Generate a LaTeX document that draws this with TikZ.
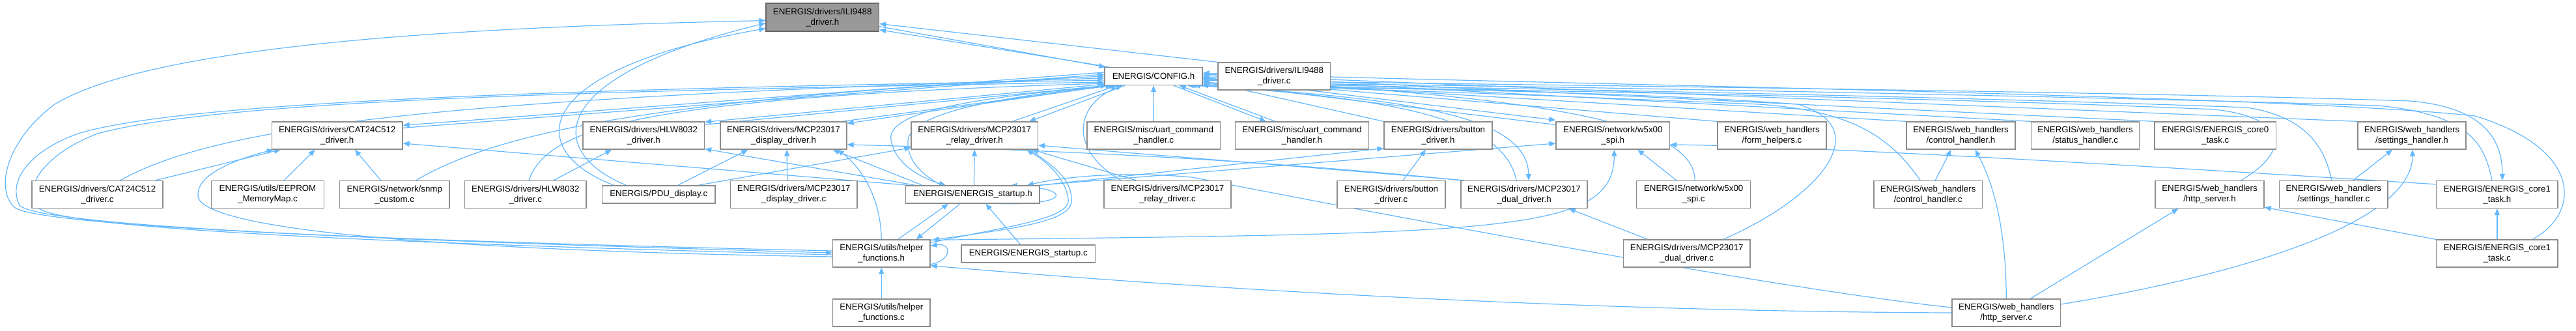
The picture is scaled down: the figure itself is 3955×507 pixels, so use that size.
\documentclass[tikz,border=0pt]{standalone}
\usepackage{fontspec}
\setmainfont{Liberation Sans}
\usetikzlibrary{arrows.meta,calc}
\definecolor{boxgray}{HTML}{8C8C8C}
\definecolor{hlfill}{HTML}{999999}
\definecolor{hlborder}{HTML}{666666}
\definecolor{edgeblue}{HTML}{63B8FF}
\pgfdeclarelayer{bg}
\pgfsetlayers{bg,main}
\newcommand{\fsz}{\fontsize{13.3}{16}\selectfont}
\tikzset{
  box/.style={draw=boxgray, line width=1.3pt, fill=white, inner sep=0pt, align=center, font=\fsz, minimum height=42pt},
  one/.style={minimum height=27pt},
  hl/.style={fill=hlfill, draw=hlborder},
  e/.style={draw=edgeblue, line width=1.2pt, -{Triangle[length=10pt,width=8pt]}},
}
\begin{document}
\begin{tikzpicture}[x=1pt,y=-1pt]
\useasboundingbox (0,0) rectangle (3955,507);
% ---------- nodes
\node[box,hl,minimum width=173.5pt,minimum height=43pt] (ilih) at (1262.75,26.5) {ENERGIS/drivers/ILI9488\\\_driver.h};
\node[box,one,minimum width=150pt] (cfg) at (1771,117) {ENERGIS/CONFIG.h};
\node[box,minimum width=172.5pt] (ilic) at (1956.25,117) {ENERGIS/drivers/ILI9488\\\_driver.c};
% row 2
\node[box,minimum width=200.5pt] (cath) at (517.75,208) {ENERGIS/drivers/CAT24C512\\\_driver.h};
\node[box,minimum width=186.5pt] (hlwh) at (988.25,208) {ENERGIS/drivers/HLW8032\\\_driver.h};
\node[box,minimum width=194pt] (mdisph) at (1203,208) {ENERGIS/drivers/MCP23017\\\_display\_driver.h};
\node[box,minimum width=194.5pt] (mrelh) at (1496.25,208) {ENERGIS/drivers/MCP23017\\\_relay\_driver.h};
\node[box,minimum width=204.5pt] (uartcc) at (1771.25,208) {ENERGIS/misc/uart\_command\\\_handler.c};
\node[box,minimum width=204.8pt] (uarth) at (1999,208) {ENERGIS/misc/uart\_command\\\_handler.h};
\node[box,minimum width=166pt] (btnh) at (2208,208) {ENERGIS/drivers/button\\\_driver.h};
\node[box,minimum width=174.6pt] (w5h) at (2476.3,208) {ENERGIS/network/w5x00\\\_spi.h};
\node[box,minimum width=167pt] (formc) at (2720.5,208) {ENERGIS/web\_handlers\\/form\_helpers.c};
\node[box,minimum width=167pt] (ctrlh) at (3010.5,208) {ENERGIS/web\_handlers\\/control\_handler.h};
\node[box,minimum width=166.2pt] (statc) at (3201.6,208) {ENERGIS/web\_handlers\\/status\_handler.c};
\node[box,minimum width=186.5pt] (core0c) at (3401.25,208) {ENERGIS/ENERGIS\_core0\\\_task.c};
\node[box,minimum width=166pt] (seth) at (3703,208) {ENERGIS/web\_handlers\\/settings\_handler.h};
% row 3
\node[box,minimum width=201pt] (catc) at (149.5,298.5) {ENERGIS/drivers/CAT24C512\\\_driver.c};
\node[box,minimum width=173pt] (eepc) at (411,298.5) {ENERGIS/utils/EEPROM\\\_MemoryMap.c};
\node[box,minimum width=168.5pt] (snmpc) at (605.75,298.5) {ENERGIS/network/snmp\\\_custom.c};
\node[box,minimum width=186.3pt] (hlwc) at (806.85,298.5) {ENERGIS/drivers/HLW8032\\\_driver.c};
\node[box,one,minimum width=173.5pt] (pduc) at (1011.25,298.5) {ENERGIS/PDU\_display.c};
\node[box,minimum width=194.5pt] (mdispc) at (1218.75,298.5) {ENERGIS/drivers/MCP23017\\\_display\_driver.c};
\node[box,one,minimum width=205.3pt] (starth) at (1493.35,298.5) {ENERGIS/ENERGIS\_startup.h};
\node[box,minimum width=195pt] (mrelc) at (1792.5,298.5) {ENERGIS/drivers/MCP23017\\\_relay\_driver.c};
\node[box,minimum width=166pt] (btnc) at (2136,298.5) {ENERGIS/drivers/button\\\_driver.c};
\node[box,minimum width=194pt] (mdualh) at (2340,298.5) {ENERGIS/drivers/MCP23017\\\_dual\_driver.h};
\node[box,minimum width=175pt] (w5c) at (2600.15,298.5) {ENERGIS/network/w5x00\\\_spi.c};
\node[box,minimum width=166.5pt] (ctrlc) at (2960.25,298.5) {ENERGIS/web\_handlers\\/control\_handler.c};
\node[box,minimum width=167pt] (httph) at (3392.5,298.5) {ENERGIS/web\_handlers\\/http\_server.h};
\node[box,minimum width=166.5pt] (setc) at (3582.75,298.5) {ENERGIS/web\_handlers\\/settings\_handler.c};
\node[box,minimum width=186.3pt] (core1h) at (3833.85,298.5) {ENERGIS/ENERGIS\_core1\\\_task.h};
% row 4
\node[box,minimum width=149.5pt] (helph) at (1353.25,389) {ENERGIS/utils/helper\\\_functions.h};
\node[box,one,minimum width=205.5pt] (startc) at (1578.75,389.5) {ENERGIS/ENERGIS\_startup.c};
\node[box,minimum width=194.6pt] (mdualc) at (2589.7,389) {ENERGIS/drivers/MCP23017\\\_dual\_driver.c};
\node[box,minimum width=186.3pt] (core1c) at (3833.85,389) {ENERGIS/ENERGIS\_core1\\\_task.c};
% row 5
\node[box,minimum width=149.5pt] (helpc) at (1353.25,480) {ENERGIS/utils/helper\\\_functions.c};
\node[box,minimum width=166.5pt] (httpc) at (3080.25,480) {ENERGIS/web\_handlers\\/http\_server.c};

\begin{pgfonlayer}{bg}
% ---------- ILI9488_driver.h
\draw[e] ($(cfg.north west)+(8,0)$) -- ($(ilih.south east)+(0,-3)$);
\draw[e] ($(ilih.south east)+(0,-8)$) -- ($(cfg.north west)+(2,0)$);
\draw[e] (ilic.north west) -- ($(ilih.east)+(0,10)$);
\draw[e] ($(helph.west)+(0,-4)$) .. controls (700,372) and (60,350) .. (22,318) .. controls (-8,290) and (10,215) .. (84,160) .. controls (250,60) and (800,40) .. ($(ilih.west)+(0,5)$);
\draw[e] ($(pduc.north west)+(19,0)$) .. controls (810,235) and (800,110) .. ($(ilih.south west)+(0,-5)$);
\draw[e] ($(pduc.north west)+(38,0)$) .. controls (840,235) and (830,120) .. ($(ilih.west)+(0,9)$);
% ---------- helper loops on the left
\draw[e] ($(cfg.west)+(0,6)$) .. controls (1000,135) and (300,150) .. (120,205) .. controls (50,230) and (10,275) .. (30,315) .. controls (60,350) and (700,372) .. ($(helph.west)+(0,-1)$);
\draw[e] ($(helph.west)+(0,2)$) .. controls (700,376) and (110,355) .. (60,320) .. controls (30,290) and (70,235) .. (150,205) .. controls (350,150) and (1000,138) .. ($(cfg.west)+(0,9)$);
\draw[e] ($(helph.west)+(0,5)$) .. controls (700,385) and (330,355) .. (305,305) .. controls (295,270) and (360,245) .. ($(cath.south west)+(3,0)$);
% ---------- CAT24C512
\draw[e] ($(catc.north east)+(-12,0)$) -- ($(cath.south west)+(14,0)$);
\draw[e] ($(catc.north)+(35,0)$) .. controls (340,190) and (700,150) .. ($(cfg.west)+(0,3)$);
\draw[e] ($(eepc.north)+(25,0)$) -- ($(cath.south)+(-34,0)$);
\draw[e] ($(snmpc.north)+(-21,0)$) -- ($(cath.south)+(27,0)$);
\draw[e] ($(snmpc.north east)+(-52,0)$) .. controls (760,205) and (1000,150) .. ($(cfg.west)+(0,0)$);
\draw[e] ($(cfg.west)+(0,-6)$) -- ($(cath.north east)+(0,6)$);
\draw[e] ($(cath.north east)+(0,10)$) -- ($(cfg.west)+(0,-3)$);
\draw[e] ($(starth.north west)+(6,0)$) -- ($(cath.east)+(0,12)$);
% ---------- HLW8032
\draw[e] ($(cfg.south west)+(0,-2)$) -- ($(hlwh.north east)+(0,1)$);
\draw[e] ($(hlwh.north east)+(0,5)$) -- ($(cfg.south west)+(4,0)$);
\draw[e] ($(hlwc.north)+(43,0)$) -- ($(hlwh.south)+(-49,0)$);
\draw[e] ($(starth.north west)+(16,0)$) -- ($(hlwh.south east)+(0,-1)$);
\draw[e] ($(hlwc.north)+(5,0)$) .. controls (840,200) and (960,150) .. ($(cfg.west)+(0,11)$);
% ---------- MCP23017 display
\draw[e] ($(cfg.south west)+(8,0)$) -- ($(mdisph.north east)+(0,3)$);
\draw[e] ($(mdisph.north east)+(-8,0)$) -- ($(cfg.south west)+(12,0)$);
\draw[e] ($(mdispc.north)+(-10,0)$) -- ($(mdisph.south)+(5,0)$);
\draw[e] ($(pduc.north east)+(-58,0)$) -- ($(mdisph.south west)+(43,0)$);
\draw[e] ($(starth.north west)+(26,0)$) -- ($(mdisph.south east)+(-22,0)$);
\draw[e] (helph.north) .. controls (1352,300) and (1320,255) .. ($(mdisph.south east)+(-15,0)$);
\draw[e] ($(mdualh.north west)+(2,0)$) .. controls (2000,252) and (1700,232) .. ($(mdisph.east)+(0,14)$);
% ---------- MCP23017 relay
\draw[e] ($(cfg.south west)+(32,0)$) -- ($(mrelh.north east)+(-14,0)$);
\draw[e] ($(mrelh.north east)+(-40,0)$) -- ($(cfg.south west)+(20,0)$);
\draw[e] ($(mrelc.north west)+(50,0)$) -- ($(mrelh.south east)+(-10,0)$);
\draw[e] ($(starth.north)+(2,0)$) -- ($(mrelh.south)+(0,0)$);
\draw[e] ($(pduc.north east)+(-27,0)$) -- ($(mrelh.south west)+(0,-3)$);
\draw[e] ($(mdualh.north west)+(6,0)$) .. controls (2000,256) and (1750,236) .. ($(mrelh.east)+(0,15)$);
\draw[e] ($(helph.north east)+(0,5)$) .. controls (1560,345) and (1645,335) .. (1640,305) .. controls (1636,275) and (1610,250) .. ($(mrelh.south east)+(-18,0)$);
\draw[e] ($(mrelh.south east)+(-14,0)$) .. controls (1615,252) and (1645,275) .. (1645,305) .. controls (1650,340) and (1560,350) .. ($(helph.north east)+(3,1)$);
\draw[e] ($(mrelc.north west)+(27,0)$) .. controls (1640,230) and (1650,160) .. ($(cfg.south west)+(28,0)$);
% ---------- ENERGIS_startup.h
\draw[e] ($(cfg.south west)+(10,0)$) .. controls (1500,150) and (1360,170) .. (1368,215) .. controls (1375,255) and (1420,275) .. ($(starth.north west)+(62,0)$);
\draw[e] ($(starth.north west)+(55,0)$) .. controls (1420,270) and (1392,250) .. (1394,215) .. controls (1400,175) and (1520,150) .. ($(cfg.south west)+(16,0)$);
\draw[e] ($(starth.south east)+(-60,0)$) .. controls (1640,315) and (1650,290) .. ($(starth.north east)+(-45,0)$);
\draw[e] ($(startc.north)+(-12,0)$) -- ($(starth.south)+(20,0)$);
\draw[e] ($(helph.north east)+(-50,0)$) -- ($(starth.south west)+(66,0)$);
\draw[e] ($(starth.south west)+(84,0)$) -- ($(helph.north east)+(-22,0)$);
\draw[e] ($(starth.north east)+(0,0)$) -- ($(btnh.south west)+(0,-2)$);
\draw[e] ($(starth.north east)+(-3,0)$) -- ($(w5h.west)+(0,12)$);
\draw[e] ($(httpc.west)+(0,-8)$) .. controls (2700,440) and (2050,315) .. (1830,272) .. controls (1720,262) and (1630,272) .. ($(starth.north east)+(-20,0)$);
% ---------- helper_functions.h
\draw[e] (helpc.north) -- (helph.south);
\draw[e] ($(helph.south east)+(0,-5)$) .. controls (1462,400) and (1462,372) .. ($(helph.north east)+(0,10)$);
\draw[e] (httpc.west) .. controls (2400,478) and (1800,440) .. ($(helph.south east)+(0,-3)$);
\draw[e] ($(helph.north east)+(0,1)$) .. controls (2300,358) and (2478,360) .. ($(w5h.south)+(2,0)$);
% ---------- right-hand side to CONFIG
\draw[e] (uartcc.north) -- (cfg.south);
\draw[e] ($(cfg.south east)+(-45,0)$) -- ($(uarth.north west)+(48,0)$);
\draw[e] ($(uarth.north west)+(62,0)$) -- ($(cfg.south east)+(-36,0)$);
\draw[e] (btnh.north west) -- ($(cfg.east)+(0,7)$);
\draw[e] ($(cfg.east)+(0,2)$) -- ($(w5h.north west)+(0,-2)$);
\draw[e] ($(w5h.north west)+(0,5)$) -- ($(cfg.east)+(0,9)$);
\draw[e] ($(cfg.south east)+(-6,0)$) .. controls (2150,150) and (2345,175) .. ($(mdualh.north)+(7,0)$);
\draw[e] ($(mdualh.north)+(-12,0)$) .. controls (2310,185) and (2150,150) .. ($(cfg.south east)+(-14,0)$);
\draw[e] ($(w5c.north)+(2,0)$) .. controls (2602,185) and (2350,148) .. ($(cfg.east)+(0,3)$);
\draw[e] (formc.north west) -- ($(cfg.east)+(0,4)$);
\draw[e] (ctrlh.north west) -- ($(cfg.east)+(0,5)$);
\draw[e] (statc.north west) -- ($(cfg.east)+(0,1)$);
\draw[e] (core0c.north west) -- ($(cfg.east)+(0,-1)$);
\draw[e] (seth.north west) -- ($(cfg.east)+(0,-3)$);
\draw[e] ($(mdualc.north east)+(-42,0)$) .. controls (2800,300) and (2880,195) .. (2760,160) .. controls (2500,140) and (2100,135) .. ($(cfg.south east)+(-20,0)$);
\draw[e] ($(ctrlc.north)+(-12,0)$) .. controls (2905,215) and (2850,170) .. (2700,160) .. controls (2400,148) and (2100,135) .. ($(cfg.south east)+(-24,0)$);
\draw[e] ($(httph.north east)+(-36,0)$) .. controls (3520,230) and (3510,180) .. (3400,168) .. controls (3000,150) and (2200,135) .. ($(cfg.south east)+(-2,0)$);
\draw[e] ($(setc.north)+(-3,0)$) .. controls (3570,230) and (3545,180) .. (3450,165) .. controls (3000,148) and (2200,132) .. ($(cfg.east)+(0,12)$);
\draw[e] ($(core1h.north)+(-8,0)$) .. controls (3815,220) and (3790,175) .. (3650,162) .. controls (3200,148) and (2300,130) .. ($(cfg.east)+(0,10)$);
\draw[e] ($(cfg.east)+(0,6)$) .. controls (2300,130) and (3250,140) .. (3700,155) .. controls (3820,165) and (3842,220) .. ($(core1h.north)+(8,0)$);
\draw[e] ($(core1c.north east)+(-40,0)$) .. controls (3960,330) and (3970,230) .. (3800,178) .. controls (3500,145) and (2300,128) .. ($(cfg.east)+(0,-5)$);
% ---------- web handlers
\draw[e] ($(ctrlc.north)+(11,0)$) -- ($(ctrlh.south)+(-15,0)$);
\draw[e] (httpc.north) .. controls (3080,350) and (3060,280) .. ($(ctrlh.south)+(22,0)$);
\draw[e] ($(httpc.north east)+(-47,0)$) -- ($(httph.south)+(-48,0)$);
\draw[e] (core1c.north west) -- ($(httph.south east)+(0,-2)$);
\draw[e] ($(httpc.east)+(0,-13)$) .. controls (3450,420) and (3704,340) .. ($(seth.south)+(1,0)$);
\draw[e] ($(setc.north)+(30,0)$) -- ($(seth.south)+(-30,0)$);
\draw[e] (core1c.north) -- (core1h.south);
\draw[e] ($(core1h.north west)+(0,6)$) .. controls (3300,255) and (2800,225) .. ($(w5h.east)+(0,14)$);
\draw[e] ($(w5c.north west)+(62,0)$) -- ($(w5h.south east)+(-50,0)$);
\draw[e] ($(mdualc.north west)+(38,0)$) -- ($(mdualh.south east)+(-29,0)$);
\draw[e] ($(btnc.north)+(18,0)$) -- ($(btnh.south)+(-19,0)$);
\end{pgfonlayer}
\end{tikzpicture}
\end{document}
